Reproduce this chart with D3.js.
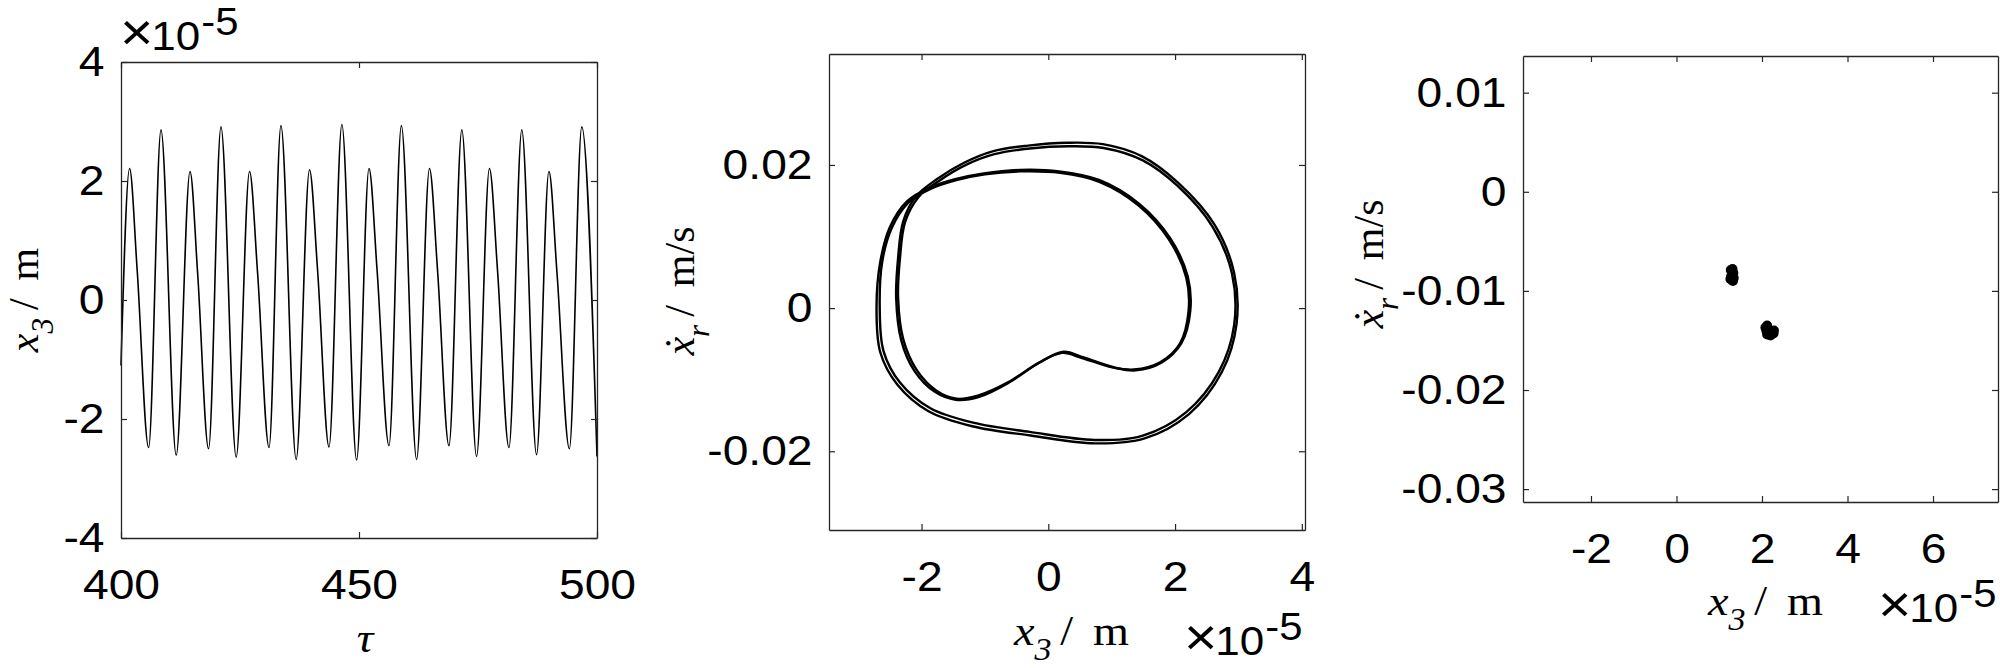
<!DOCTYPE html>
<html>
<head>
<meta charset="utf-8">
<script src="https://cdn.jsdelivr.net/npm/d3@7"></script>
<style>
  body { margin: 0; background: #fff; }
  svg { display: block; background: #fff; }
</style>
</head>
<body>
<svg id="fig" width="2000" height="668"></svg>
<script>
// ---- data ----

// left panel: time history, x3 in units of 1e-5 m
const tau = [400.0, 401.8, 403.4, 405.8, 408.4, 411.6, 414.5, 416.1, 418.4, 421.0,
             424.2, 427.0, 428.7, 431.1, 433.6, 436.8, 439.6, 441.3, 443.7, 446.4,
             449.5, 452.1, 453.8, 456.3, 458.9, 462.1, 464.8, 466.5, 468.9, 471.6,
             474.7, 477.4, 479.1, 481.5, 484.2, 487.3, 489.9, 491.6, 494.2, 496.8, 500.0];
const x3 = [-1.1, 2.21, 0.5, -2.48, 2.86, -2.61, 2.16, 0.45, -2.50, 2.91,
            -2.64, 2.16, 0.45, -2.48, 2.93, -2.68, 2.19, 0.5, -2.47, 2.95,
            -2.69, 2.21, 0.5, -2.45, 2.93, -2.68, 2.21, 0.5, -2.45, 2.86,
            -2.63, 2.21, 0.5, -2.48, 2.86, -2.60, 2.16, 0.45, -2.50, 2.91, -2.63];

// middle panel: phase portrait, two passes of the bundle (x in 1e-5 m, v in m/s)
const orbitX1 = [0.873, 0.324, -0.294, -0.85, -1.30, -1.72, -2.05, -2.26, -2.34, -2.37,
                 -2.29, -2.08, -1.77, -1.45, -1.10, -0.637, -0.157, 0.220, 0.530, 1.010,
                 1.353, 1.765, 2.074, 2.212, 2.177, 1.902, 1.421, 0.805, 0.187, -0.436,
                 -1.00, -1.45, -1.85, -2.20, -2.47, -2.62, -2.66, -2.60, -2.34, -1.86,
                 -1.187, -0.294, 0.735, 1.491, 2.177, 2.692, 2.933, 2.898, 2.590, 2.040, 1.491];
const orbitV1 = [0.02237, 0.02261, 0.02230, 0.02150, 0.02000, 0.01780, 0.01550, 0.01200, 0.00700, 0.00150,
                 -0.00430, -0.00860, -0.01150, -0.01265, -0.01220, -0.01038, -0.00768, -0.00626, -0.00697, -0.00828,
                 -0.00858, -0.00757, -0.00500, -0.00053, 0.00425, 0.00961, 0.01437, 0.01765, 0.01890, 0.01910,
                 0.01870, 0.01790, 0.01670, 0.01480, 0.01120, 0.00650, 0.00030, -0.00600, -0.01040, -0.01400,
                 -0.01600, -0.01730, -0.01842, -0.01782, -0.01454, -0.00888, -0.00232, 0.00483, 0.01140, 0.01707, 0.02064];
const orbitX2 = [0.86, 0.30, -0.32, -0.88, -1.33, -1.76, -2.09, -2.29, -2.37, -2.40,
                 -2.32, -2.11, -1.79, -1.46, -1.09, -0.62, -0.14, 0.24, 0.56, 1.04,
                 1.38, 1.79, 2.10, 2.24, 2.20, 1.92, 1.43, 0.80, 0.17, -0.45,
                 -1.02, -1.47, -1.88, -2.23, -2.50, -2.65, -2.71, -2.65, -2.38, -1.89,
                 -1.20, -0.28, 0.74, 1.52, 2.22, 2.74, 2.97, 2.93, 2.62, 2.05, 1.48];
const orbitV2 = [0.0229, 0.0231, 0.0227, 0.0219, 0.0203, 0.0180, 0.0156, 0.0121, 0.0070, 0.0014,
                 -0.0045, -0.0088, -0.0117, -0.0128, -0.0124, -0.0104, -0.0076, -0.0061, -0.0069, -0.0083,
                 -0.0087, -0.0076, -0.0049, -0.0004, 0.0044, 0.0098, 0.0146, 0.0179, 0.0191, 0.0193,
                 0.0188, 0.0180, 0.0168, 0.0149, 0.0113, 0.0065, 0.0002, -0.0062, -0.0107, -0.0144,
                 -0.0165, -0.0178, -0.0189, -0.0182, -0.0148, -0.0089, -0.0022, 0.0050, 0.0117, 0.0175, 0.0212];

// right panel: Poincare section points (x in 1e-5 m, v in m/s)
const secX = [1.27, 1.31, 1.33, 1.28, 1.34, 1.30, 1.26, 1.32,
              2.08, 2.12, 2.16, 2.22, 2.27, 2.20, 2.12, 2.10, 2.28];
const secV = [-0.0079, -0.0078, -0.0082, -0.0085, -0.0087, -0.0089, -0.0088, -0.0090,
              -0.0137, -0.0135, -0.0140, -0.0142, -0.0143, -0.0145, -0.0144, -0.0140, -0.0140];

// tick values
const ticks1X = [400, 450, 500];
const ticks1Y = [-4, -2, 0, 2, 4];
const ticks2X = [-2, 0, 2, 4];
const ticks2Y = [-0.02, 0, 0.02];
const ticks3X = [-2, 0, 2, 4, 6];
const ticks3Y = [-0.03, -0.02, -0.01, 0, 0.01];

// ---- drawing ----
const svg = d3.select('#fig');
const SANS = "'Liberation Sans', Arial, Helvetica, sans-serif";
const SERIF = "'Liberation Serif', 'Times New Roman', serif";
const AXC = '#262626';

function boxAxes(g, x, y, w, h, xt, yt) {
    const fmt = d => String(d);
    const styleAxis = sel => {
        sel.selectAll('path.domain').attr('stroke', AXC).attr('stroke-width', 1.3);
        sel.selectAll('.tick line').attr('stroke', AXC).attr('stroke-width', 1.2);
        sel.selectAll('.tick text')
            .attr('font-family', SANS)
            .attr('font-size', 42)
            .attr('fill', '#000')
            .attr('transform', 'scale(1.1,1)');
    };
    g.append('g').attr('transform', `translate(0,${h})`)
        .call(d3.axisBottom(x).tickValues(xt).tickFormat(fmt).tickSizeInner(-6).tickSizeOuter(0).tickPadding(31))
        .call(styleAxis);
    g.append('g')
        .call(d3.axisTop(x).tickValues(xt).tickFormat('').tickSizeInner(-6).tickSizeOuter(0))
        .call(styleAxis);
    g.append('g')
        .call(d3.axisLeft(y).tickValues(yt).tickFormat(fmt).tickSizeInner(-6).tickSizeOuter(0).tickPadding(15))
        .call(styleAxis);
    g.append('g').attr('transform', `translate(${w},0)`)
        .call(d3.axisRight(y).tickValues(yt).tickFormat('').tickSizeInner(-6).tickSizeOuter(0))
        .call(styleAxis);
}

// x_3 / m style label, y labels are turned by -90
function serifLabel(base, sub, unit, px, py, rotate, anchor) {
    const tf = rotate ? `translate(${px},${py}) rotate(-90)` : `translate(${px},${py}) scale(1.1,1)`;
    const t = svg.append('text')
        .attr('transform', tf)
        .attr('font-family', SERIF)
        .attr('font-size', 42)
        .attr('text-anchor', anchor)
        .attr('fill', '#000');
    t.append('tspan').attr('font-style', 'italic').text(base);
    if (sub) {
        t.append('tspan').attr('font-style', 'italic').attr('font-size', 31).attr('dy', 15).text(sub);
        t.append('tspan').attr('dy', -15).attr('dx', 8).text('/');
        t.append('tspan').attr('dx', 18).text(unit);
    }
}

// the x10^-5 multiplier
function expLabel(px, py) {
    const t = svg.append('text')
        .attr('transform', `translate(${px},${py}) scale(1.1,1)`)
        .attr('font-family', SANS)
        .attr('fill', '#000');
    t.append('tspan').attr('font-size', 52).text('\u00d7');
    t.append('tspan').attr('font-size', 40).attr('dx', -2).text('10');
    t.append('tspan').attr('font-size', 38).attr('dx', 1).attr('dy', -15).text('-5');
}

// panel 1: time history
{
    const L = 121, T = 62, W = 476, H = 476;
    const x = d3.scaleLinear().domain([400, 500]).range([0, W]);
    const y = d3.scaleLinear().domain([-4, 4]).range([H, 0]);
    const g = svg.append('g').attr('transform', `translate(${L},${T})`);

    const line = d3.line()
        .x((d, i) => x(tau[i]))
        .y(d => y(d))
        .curve(d3.curveMonotoneX);
    g.append('path')
        .attr('d', line(x3))
        .attr('fill', 'none')
        .attr('stroke', '#000')
        .attr('stroke-width', 1.6);

    boxAxes(g, x, y, W, H, ticks1X, ticks1Y);
    serifLabel('x', '3', 'm', 38, 300, true, 'middle');
    serifLabel('\u03c4', null, null, 365, 652, false, 'middle');
    expLabel(120, 50);
}

// panel 2: phase portrait
{
    const L = 829, T = 54, W = 476, H = 476;
    const x = d3.scaleLinear().domain([-3.46, 4.05]).range([0, W]);
    const y = d3.scaleLinear().domain([-0.0310, 0.0355]).range([H, 0]);
    const g = svg.append('g').attr('transform', `translate(${L},${T})`);

    const loop = (xs, vs) => d3.line()
        .x((d, i) => x(xs[i]))
        .y((d, i) => y(vs[i]))
        .curve(d3.curveCatmullRomClosed.alpha(0.5))(xs);

    [[orbitX1, orbitV1], [orbitX2, orbitV2]].forEach(o => {
        g.append('path')
            .attr('d', loop(o[0], o[1]))
            .attr('fill', 'none')
            .attr('stroke', '#000')
            .attr('stroke-width', 2.4);
    });

    boxAxes(g, x, y, W, H, ticks2X, ticks2Y);
    serifLabel('\u1e8b', 'r', 'm/s', 694, 291, true, 'middle');
    serifLabel('x', '3', 'm', 1014, 645, false, 'start');
    expLabel(1184, 655);
}

// panel 3: Poincare section
{
    const L = 1523, T = 56, W = 475, H = 446;
    const x = d3.scaleLinear().domain([-3.59, 7.52]).range([0, W]);
    const y = d3.scaleLinear().domain([-0.0313, 0.0137]).range([H, 0]);
    const g = svg.append('g').attr('transform', `translate(${L},${T})`);

    g.selectAll('circle')
        .data(secX)
        .enter()
        .append('circle')
        .attr('cx', d => x(d))
        .attr('cy', (d, i) => y(secV[i]))
        .attr('r', 5)
        .attr('fill', '#000');

    boxAxes(g, x, y, W, H, ticks3X, ticks3Y);
    serifLabel('\u1e8b', 'r', 'm/s', 1383, 264, true, 'middle');
    serifLabel('x', '3', 'm', 1708, 615, false, 'start');
    expLabel(1878, 622);
}
</script>
</body>
</html>
